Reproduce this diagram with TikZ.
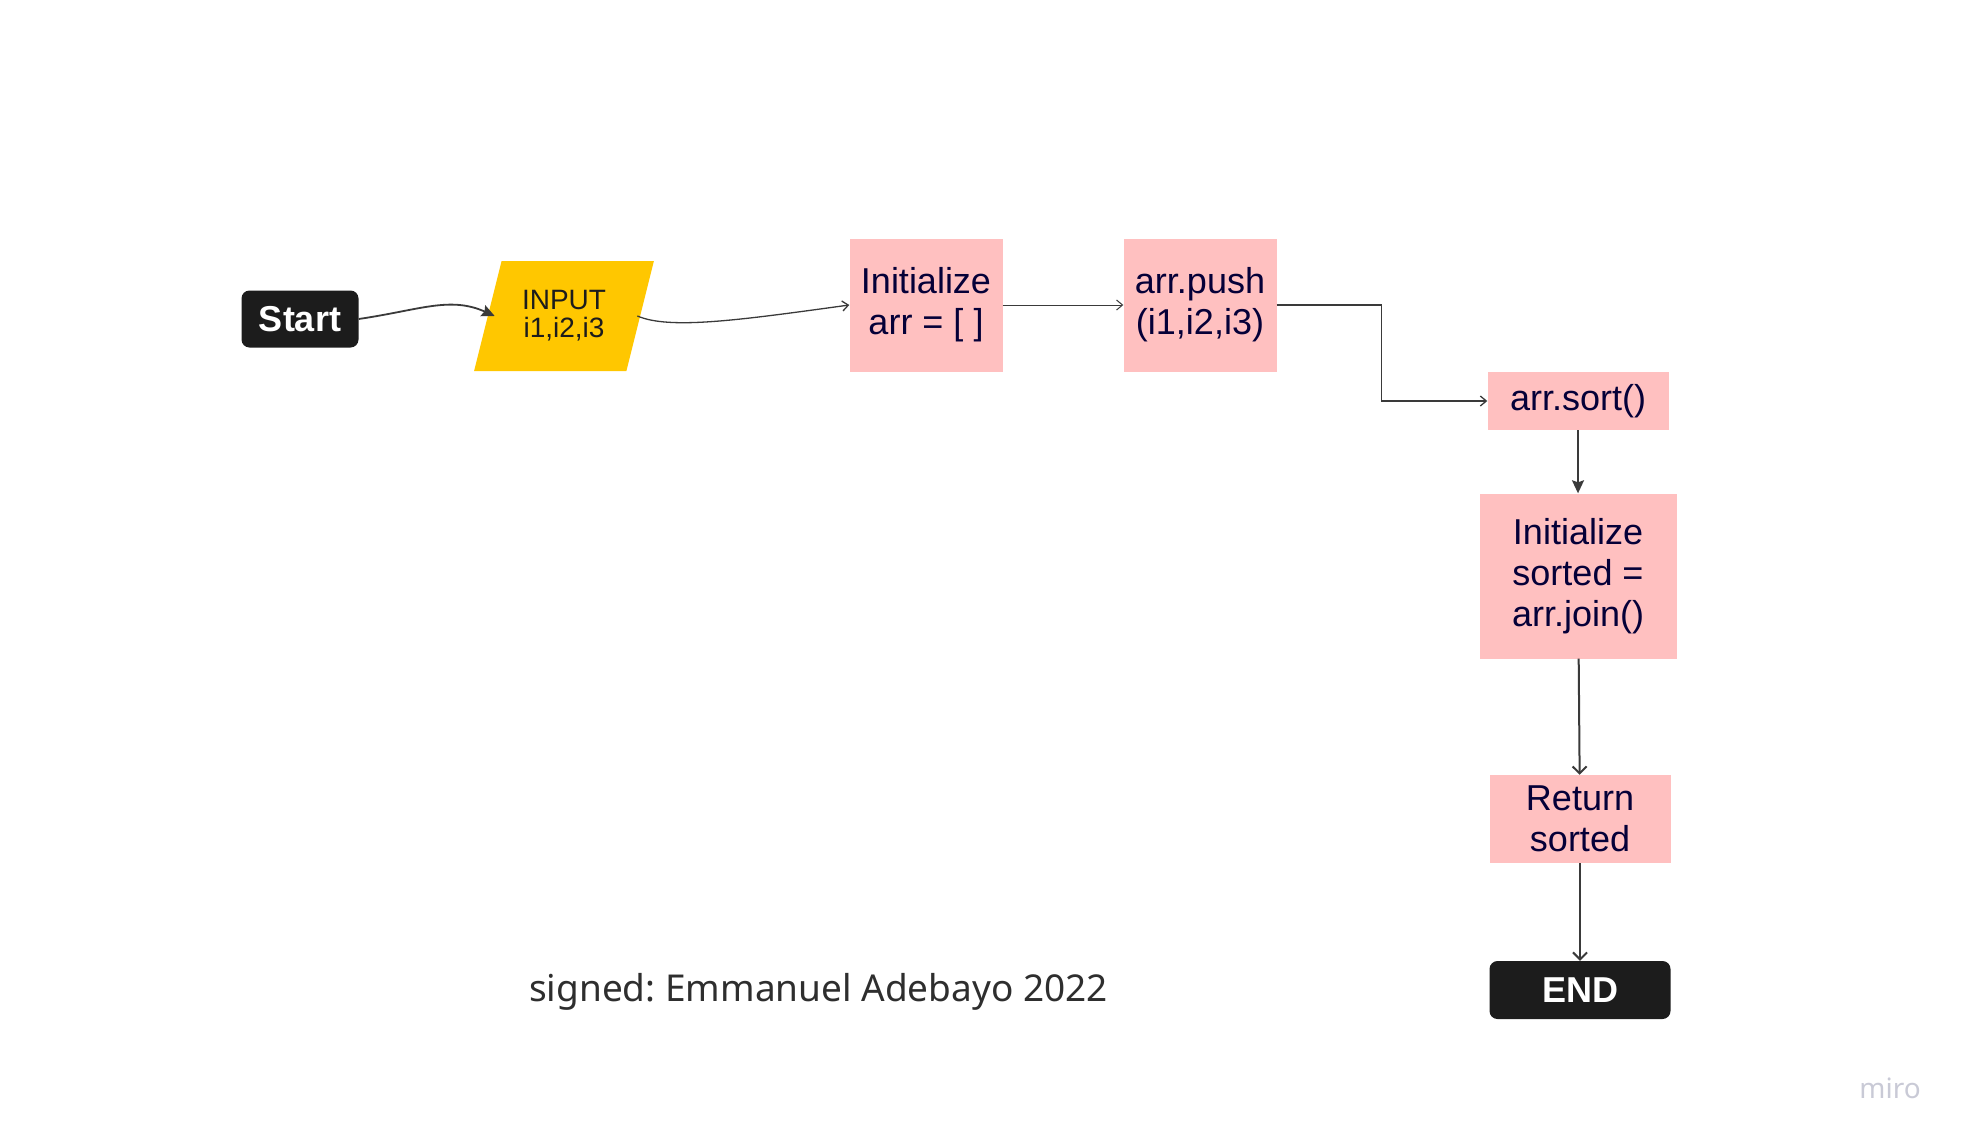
\documentclass[tikz,border=0pt]{standalone}
\usepackage{fontspec}
\setmainfont{Liberation Sans}
\newfontfamily\signfont{Noto Sans}
\usetikzlibrary{positioning,shapes.geometric,arrows.meta}
\definecolor{boxpink}{HTML}{FFC0C0}
\definecolor{inputyellow}{HTML}{FFC700}
\definecolor{termblack}{HTML}{1C1C1C}
\definecolor{boxtext}{HTML}{050038}
\definecolor{linegray}{HTML}{3A3A3A}
\definecolor{signgray}{HTML}{2E2E2E}
\definecolor{mirogray}{HTML}{C9CAD6}

\begin{document}
\frenchspacing
\begin{tikzpicture}[x=1pt,y=-1pt]
    \tikzstyle{term} = [rectangle, rounded corners=8pt, fill=termblack, text=white, font=\fontsize{36}{40}\selectfont\bfseries, minimum width=117pt, minimum height=57pt, inner sep=0pt]
    \tikzstyle{io} = [trapezium, trapezium left angle=70, trapezium right angle=110, trapezium stretches=true, fill=inputyellow, minimum width=180pt, minimum height=110pt, align=center, text=termblack, font=\fontsize{28}{28}\selectfont, inner sep=0pt]
    \tikzstyle{proc} = [rectangle, fill=boxpink, text=boxtext, align=center, font=\fontsize{36}{41}\selectfont, inner sep=0pt]
    \tikzstyle{arrow} = [draw=linegray, line width=1.3pt, -{Straight Barb[length=6pt,width=10pt]}]
    \tikzstyle{downarrow} = [draw=linegray, line width=2pt, -{Straight Barb[length=7pt,width=14pt]}]
    \tikzstyle{fatarrow} = [draw=linegray, line width=1.8pt, -{Stealth[length=13pt,width=12pt,inset=2pt]}]

    \useasboundingbox (0,0) rectangle (1967,1143);

    \node (start) [term] at (300,319) {Start};
    \node (input) [io, right of=start, node distance=264pt, yshift=3pt] {INPUT\\i1,i2,i3};
    \node (init) [proc, minimum width=153pt, minimum height=133pt, right of=input, node distance=362pt, yshift=11pt] {Initialize\\arr = [ ]};
    \node (push) [proc, minimum width=153pt, minimum height=133pt, right of=init, node distance=274pt] {arr.push\\(i1,i2,i3)};
    \node (sort) [proc, minimum width=181pt, minimum height=58pt, right of=push, node distance=378pt, yshift=-96pt] {arr.sort()};
    \node (joined) [proc, minimum width=197pt, minimum height=165pt, below of=sort, node distance=175pt] {Initialize\\sorted =\\arr.join()};
    \node (ret) [proc, minimum width=181pt, minimum height=88pt, below of=joined, node distance=243pt, xshift=2pt] {Return\\sorted};
    \node (stop) [term, minimum width=181pt, minimum height=58pt, below of=ret, node distance=171pt] {END};

    \node (sign) [anchor=west, inner sep=0pt, text=signgray, font=\signfont\fontsize{37}{40}\selectfont] at (529,992) {signed: Emmanuel Adebayo 2022};
    \node (miro) [inner sep=0pt, text=mirogray, font=\signfont\fontsize{28}{30}\selectfont\bfseries] at (1890,1088) {miro};

    \draw [fatarrow] (start.east) .. controls (420,310) and (450,296) .. ([xshift=7pt]input.west);
    \draw [arrow] ([xshift=-3pt]input.east) .. controls (670,330) and (740,320) .. (init.west);
    \draw [arrow, line width=1pt] (init) -- (push);
    \draw [arrow] (push.east) -- ++(105,0) |- (sort.west);
    \draw [fatarrow] (sort) -- (joined);
    \draw [downarrow] (joined) -- (ret);
    \draw [downarrow] (ret) -- (stop);
\end{tikzpicture}
\end{document}
